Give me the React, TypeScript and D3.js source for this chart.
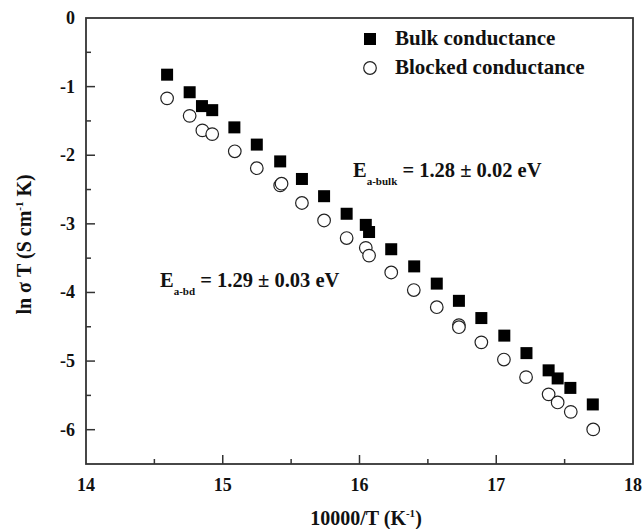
import React, { useRef, useEffect } from 'react';
import * as d3 from 'd3';

// 10000/T values and ln(sigma T) readings
const bulkX = [14.593, 14.758, 14.848, 14.923, 15.085, 15.249, 15.42, 15.579, 15.741, 15.906, 16.046, 16.07, 16.232, 16.40, 16.565, 16.727, 16.891, 17.059, 17.221, 17.383, 17.449, 17.542, 17.706];
const bulkY = [-0.826, -1.082, -1.284, -1.343, -1.594, -1.845, -2.09, -2.346, -2.597, -2.853, -3.015, -3.119, -3.37, -3.62, -3.871, -4.122, -4.373, -4.629, -4.884, -5.135, -5.253, -5.391, -5.632];

const blockedX = [14.593, 14.758, 14.851, 14.923, 15.088, 15.249, 15.42, 15.43, 15.579, 15.741, 15.906, 16.046, 16.07, 16.232, 16.397, 16.565, 16.727, 16.727, 16.891, 17.056, 17.218, 17.383, 17.449, 17.545, 17.709];
const blockedY = [-1.171, -1.426, -1.638, -1.692, -1.943, -2.189, -2.44, -2.415, -2.696, -2.951, -3.207, -3.35, -3.463, -3.709, -3.965, -4.215, -4.476, -4.506, -4.727, -4.978, -5.234, -5.485, -5.603, -5.74, -5.996];

const xTicks = [14, 15, 16, 17, 18];
const yTicks = [0, -1, -2, -3, -4, -5, -6];
const legendLabels = ['Bulk conductance', 'Blocked conductance'];

const font = "'Liberation Serif', 'DejaVu Serif', serif";

const App = () => {
    const ref = useRef<SVGSVGElement>(null);

    useEffect(() => {
        const svg = d3.select(ref.current);
        svg.selectAll('*').remove();

        const margin = { top: 18, right: 9, bottom: 65, left: 86 };
        const width = 642;
        const height = 529;

        const x = d3.scaleLinear().domain([14, 18]).range([margin.left, width - margin.right]);
        const y = d3.scaleLinear().domain([0, -6.5]).range([margin.top, height - margin.bottom]);

        const g = svg.append('g')
            .style('font-family', font)
            .style('font-weight', 'bold')
            .style('fill', '#111');

        // frame
        g.append('rect')
            .attr('x', x(14)).attr('y', y(0))
            .attr('width', x(18) - x(14)).attr('height', y(-6.5) - y(0))
            .attr('fill', 'none').attr('stroke', '#333').attr('stroke-width', 1.8);

        // x ticks (inward)
        const xMinor = d3.range(14.5, 18, 1);
        g.selectAll('.xt').data(xTicks.slice(1, -1)).enter().append('line')
            .attr('x1', d => x(d)).attr('x2', d => x(d))
            .attr('y1', y(-6.5)).attr('y2', y(-6.5) - 9)
            .attr('stroke', '#333').attr('stroke-width', 1.5);
        g.selectAll('.xm').data(xMinor).enter().append('line')
            .attr('x1', d => x(d)).attr('x2', d => x(d))
            .attr('y1', y(-6.5)).attr('y2', y(-6.5) - 5)
            .attr('stroke', '#333').attr('stroke-width', 1.5);
        g.selectAll('.xl').data(xTicks).enter().append('text')
            .attr('x', d => x(d)).attr('y', y(-6.5) + 27)
            .attr('text-anchor', 'middle')
            .style('font-size', '18px')
            .text(d => d);

        // y ticks (inward)
        const yMinor = d3.range(-0.5, -6.5, -1);
        g.selectAll('.yt').data(yTicks.slice(1)).enter().append('line')
            .attr('x1', x(14)).attr('x2', x(14) + 9)
            .attr('y1', d => y(d)).attr('y2', d => y(d))
            .attr('stroke', '#333').attr('stroke-width', 1.5);
        g.selectAll('.ym').data(yMinor).enter().append('line')
            .attr('x1', x(14)).attr('x2', x(14) + 5)
            .attr('y1', d => y(d)).attr('y2', d => y(d))
            .attr('stroke', '#333').attr('stroke-width', 1.5);
        g.selectAll('.yl').data(yTicks).enter().append('text')
            .attr('x', x(14) - 11).attr('y', d => y(d) + 6)
            .attr('text-anchor', 'end')
            .style('font-size', '18px')
            .text(d => d);

        // axis titles
        const xt = g.append('text')
            .attr('x', 366).attr('y', 525)
            .attr('text-anchor', 'middle')
            .style('font-size', '20px');
        xt.append('tspan').text('10000/T (K');
        xt.append('tspan').attr('dy', -8).style('font-size', '11px').text('-1');
        xt.append('tspan').attr('dy', 8).text(')');

        const yt = g.append('text')
            .attr('transform', `translate(31, ${y(-3.3)}) rotate(-90)`)
            .attr('text-anchor', 'middle')
            .style('font-size', '20px');
        yt.append('tspan').text('ln σ T (S cm');
        yt.append('tspan').attr('dy', -8).style('font-size', '11px').text('-1');
        yt.append('tspan').attr('dy', 8).text(' K)');

        // data
        const bulk = bulkX.map((v, i) => [v, bulkY[i]]);
        const blocked = blockedX.map((v, i) => [v, blockedY[i]]);
        const s = 12;

        g.selectAll('.bd').data(blocked).enter().append('circle')
            .attr('cx', d => x(d[0])).attr('cy', d => y(d[1])).attr('r', 6.3)
            .attr('fill', '#fff').attr('stroke', '#222').attr('stroke-width', 1.2);

        g.selectAll('.bk').data(bulk).enter().append('rect')
            .attr('x', d => x(d[0]) - s / 2).attr('y', d => y(d[1]) - s / 2)
            .attr('width', s).attr('height', s)
            .attr('fill', '#000');

        // legend
        const lg = g.append('g');
        lg.append('rect').attr('x', 364).attr('y', 33).attr('width', s).attr('height', s).attr('fill', '#000');
        lg.append('circle').attr('cx', 370).attr('cy', 68).attr('r', 6.3)
            .attr('fill', '#fff').attr('stroke', '#222').attr('stroke-width', 1.2);
        lg.selectAll('text').data(legendLabels).enter().append('text')
            .attr('x', 395).attr('y', (d, i) => 45 + i * 29)
            .style('font-size', '21px')
            .text(d => d);

        // activation energy notes
        const note = (px: number, py: number, sub: string, rest: string) => {
            const t = g.append('text').attr('x', px).attr('y', py).style('font-size', '20.5px');
            t.append('tspan').text('E');
            t.append('tspan').attr('dy', 8).style('font-size', '11px').text(sub);
            t.append('tspan').attr('dy', -8).text(rest);
        };
        note(353, 177, 'a-bulk', ' = 1.28 ± 0.02 eV');
        note(160, 287, 'a-bd', ' = 1.29 ± 0.03 eV');
    }, []);

    return <svg ref={ref} width={642} height={529} style={{ position: 'absolute', left: 0, top: 0 }}></svg>;
};

export default App;
